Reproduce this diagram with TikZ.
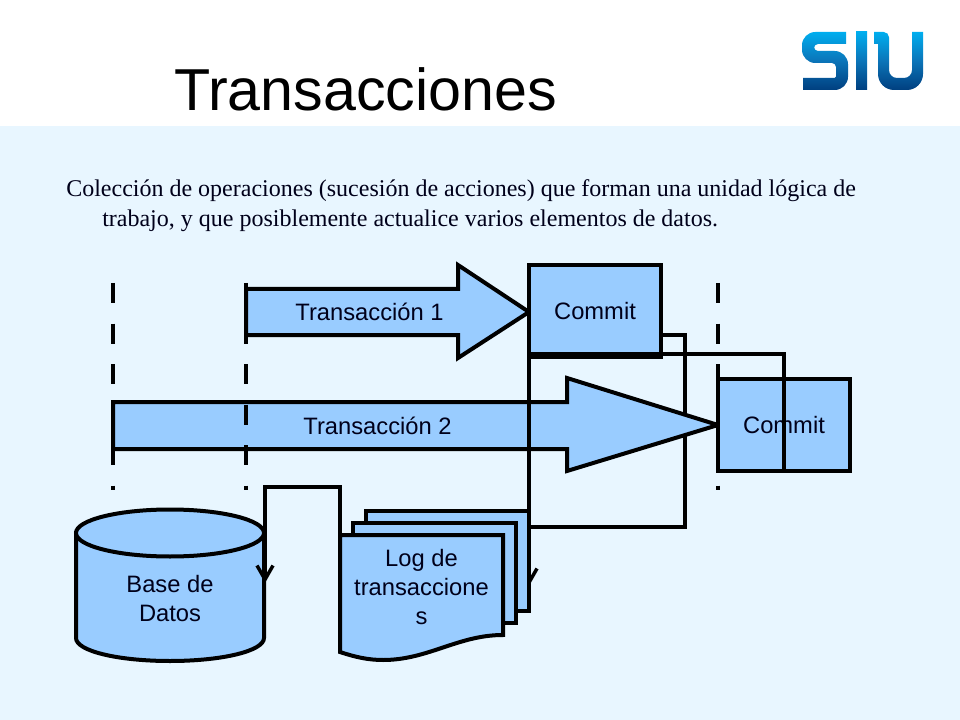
\documentclass[tikz,border=0pt]{standalone}
\usepackage{fontspec}
\setmainfont{Liberation Serif}
\setsansfont{Liberation Sans}
\usetikzlibrary{arrows.meta}
\definecolor{bgblue}{HTML}{E8F6FF}
\definecolor{boxblue}{HTML}{99CCFF}
\definecolor{ink}{HTML}{00001A}
\definecolor{logotop}{HTML}{00AEEF}
\definecolor{logomid}{HTML}{0B74B8}
\definecolor{logobot}{HTML}{003F7F}
\tikzset{
  shapeline/.style={draw=black,line width=3pt,fill=boxblue,line join=miter},
  conn/.style={draw=black,line width=2.6pt,line join=miter},
  tipbarb/.style={-{Straight Barb[length=10.5pt,width=12pt,line width=2.6pt]}},
  lifeline/.style={draw=black,line width=3pt,dash pattern=on 15pt off 15.4pt},
  lbl/.style={font=\sffamily\fontsize{17.8pt}{21.75pt}\selectfont,text=ink,align=center,inner sep=0pt},
  commitbox/.style={shapeline,rectangle,minimum width=99pt,inner sep=0pt,outer sep=0pt,
    font=\sffamily\fontsize{17.8pt}{21.75pt}\selectfont,text=ink},
  bodytext/.style={font=\fontsize{18pt}{22pt}\selectfont,text=ink,anchor=base west,inner sep=0pt},
  logofill/.style={top color=logotop,bottom color=logobot,middle color=logomid}
}
\begin{document}
\begin{tikzpicture}[x=0.75pt,y=-0.75pt]
\useasboundingbox (0,0) rectangle (960,720);
\fill[white] (0,0) rectangle (960,126);
\fill[bgblue] (0,126) rectangle (960,720);
% logo
\shade[logofill] (846,32) [rounded corners=10pt] -- (802,32) -- (802,63) [rounded corners=3pt] -- (836,63) [rounded corners=1pt] -- (836,78) [sharp corners] -- (803,78) -- (803,90) [rounded corners=10pt] -- (848,90) -- (848,51) [rounded corners=3pt] -- (814,51) -- (814,44) [sharp corners] -- (846,44) -- cycle;
\shade[logofill] (856,32) rectangle (867,90);
\shade[logofill] (874,32) [rounded corners=4pt] -- (889,32) [rounded corners=2pt] -- (889,66) [rounded corners=6pt] -- (889,78) -- (912,78) [sharp corners] -- (912,32) -- (923,32) [rounded corners=12pt] -- (923,90) -- (878,90) [sharp corners] -- (878,44) -- (874,44) -- cycle;
% title and body text
\node[font=\sffamily\fontsize{44.4pt}{50pt}\selectfont,text=black,anchor=base west,inner sep=0pt] (title) at (174,111) {Transacciones};
\node[bodytext] (lineA) at (66,197) {Colección de operaciones (sucesión de acciones) que forman una unidad lógica de};
\node[bodytext] (lineB) at (102,227) {trabajo, y que posiblemente actualice varios elementos de datos.};
% commit 1 and its connector to the log stack
\coordinate (aout) at (661,335);
\coordinate (acorner) at (685,335);
\coordinate (alow) at (685,527);
\coordinate (logback) at (529,527);
\draw[conn] (aout) -- (acorner) -- (alow) -- (logback);
% transaction arrows
\draw[shapeline] (246,289) -- (458,289) -- (458,265) -- (529,312) -- (458,358) -- (458,335) -- (246,335) -- cycle;
\node[lbl] (t1) at (369.5,312) {Transacción 1};
\draw[shapeline] (113,402) -- (567,402) -- (567,378) -- (718,425) -- (567,471) -- (567,449) -- (113,449) -- cycle;
\node[lbl] (t2) at (377.5,426) {Transacción 2};
% commit boxes
\node[commitbox,minimum height=69pt] (commitA) at (595,311) {\raisebox{-0.75pt}{Commit}};
\node[commitbox,minimum height=69pt] (commitB) at (784,425) {\raisebox{-0.75pt}{Commit}};
% commit 2 connector
\coordinate (bup) at (784,354);
\coordinate (bleft) at (529,354);
\coordinate (btip) at (529,586);
\draw[conn,tipbarb] (commitB.south) -- (bup) -- (bleft) -- (btip);
% lifelines
\draw[lifeline] (113,283) -- (113,490);
\draw[lifeline] (246,283) -- (246,490);
\draw[lifeline] (718,283) -- (718,490);
% database
\draw[shapeline] (76,533) -- (76,638) .. controls (76,651) and (118,661) .. (170,661) .. controls (222,661) and (264,651) .. (264,638) -- (264,533) -- cycle;
\draw[shapeline] (170,533) ellipse [x radius=94,y radius=23.5];
\node[lbl] (db) at (170,599) {Base de\\Datos};
% log to database connector
\coordinate (logstart) at (340,585);
\coordinate (lograise) at (340,487);
\coordinate (dbup) at (265,487);
\coordinate (dbtip) at (265,583);
\draw[conn,tipbarb] (logstart) -- (lograise) -- (dbup) -- (dbtip);
% log stack
\draw[shapeline] (366,511) rectangle (529,611);
\draw[shapeline] (353,523) rectangle (516,623);
\draw[shapeline] (340,535) -- (503,535) -- (503,635) .. controls (458,635) and (428,660) .. (383,660) .. controls (368,660) and (355,657) .. (340,652) -- cycle;
\node[lbl] (log) at (421.5,587) {Log de\\transaccione\\s};
\end{tikzpicture}
\end{document}
